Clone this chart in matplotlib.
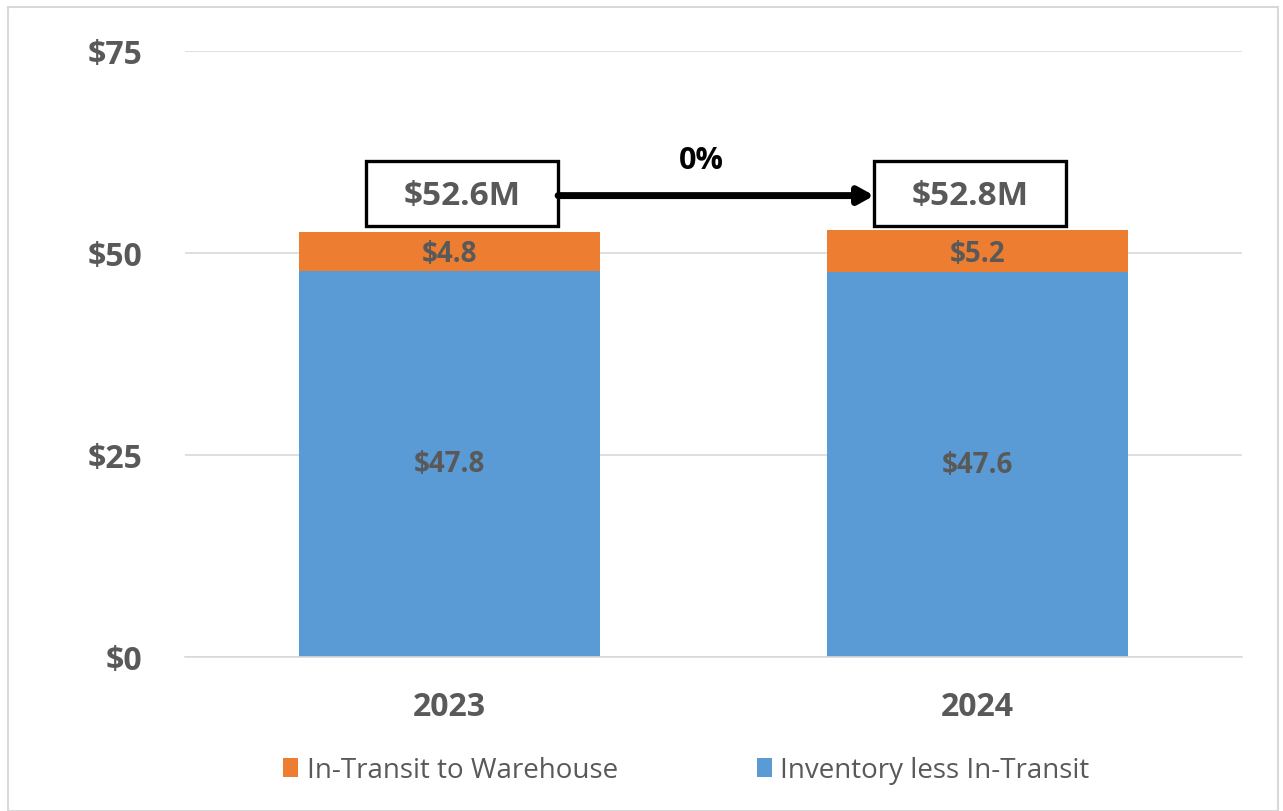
import matplotlib.pyplot as plt
from matplotlib.patches import Rectangle

plt.rcParams['font.family'] = ['Open Sans', 'DejaVu Sans']

years = ['2023', '2024']
inventory = [47.8, 47.6]
in_transit = [4.8, 5.2]
totals = ['$52.6M', '$52.8M']
change = '0%'

blue = '#5b9bd5'
orange = '#ed7d31'
gray = '#595959'

fig = plt.figure(figsize=(12.83, 8.12), dpi=100)
ax = fig.add_axes([0.1442, 0.1897, 0.8238, 0.7463])

# light frame round the whole chart
fig.patches.append(Rectangle((0.006, 0.0), 0.99, 0.99, transform=fig.transFigure,
                             fill=False, edgecolor='#d9d9d9', linewidth=1.5))

x = range(len(years))
b1 = ax.bar(x, inventory, width=0.57, color=blue, label='Inventory less In-Transit', zorder=2)
b2 = ax.bar(x, in_transit, width=0.57, bottom=inventory, color=orange,
            label='In-Transit to Warehouse', zorder=2)

for i in x:
    ax.text(i, inventory[i] / 2, f'${inventory[i]:.1f}', ha='center', va='center',
            fontsize=20, fontweight='bold', color=gray)
    ax.text(i, inventory[i] + in_transit[i] / 2 - 0.3, f'${in_transit[i]:.1f}', ha='center',
            va='center', fontsize=20, fontweight='bold', color=gray)

# total boxes
box_left = [-0.158, 0.804]
box_w = 0.364
box_lo, box_hi = 53.3, 61.4
for i in x:
    ax.add_patch(Rectangle((box_left[i], box_lo), box_w, box_hi - box_lo, facecolor='white',
                           edgecolor='black', linewidth=2.4, zorder=3))
    ax.text(box_left[i] + box_w / 2, (box_lo + box_hi) / 2 - 0.2, totals[i], ha='center',
            va='center', fontsize=24, fontweight='bold', color=gray, zorder=4)

ax.annotate('', xy=(box_left[1], 57.1), xytext=(box_left[0] + box_w, 57.1),
            arrowprops=dict(arrowstyle='-|>,head_length=0.9,head_width=0.5',
                            color='black', lw=5, shrinkA=0, shrinkB=0), zorder=5)
ax.text(0.477, 61.5, change, ha='center', va='center', fontsize=22,
        fontweight='bold', color='black')

ax.set_xlim(-0.5, 1.5)
ax.set_ylim(0, 75)
ax.set_yticks([0, 25, 50, 75])
ax.set_yticklabels(['$0', '$25', '$50', '$75'])
ax.set_xticks(list(x))
ax.set_xticklabels(years)
ax.tick_params(axis='both', length=0, labelsize=23, labelcolor=gray)
ax.tick_params(axis='y', pad=31)
ax.tick_params(axis='x', pad=24)
for lab in ax.get_xticklabels() + ax.get_yticklabels():
    lab.set_fontweight('bold')
ax.grid(axis='y', color='#d9d9d9', linewidth=1.2, zorder=0)
for s in ['top', 'right', 'left']:
    ax.spines[s].set_visible(False)
ax.spines['bottom'].set_color('#d9d9d9')
ax.spines['bottom'].set_linewidth(1.2)

leg = fig.legend(handles=[b2, b1], labels=['In-Transit to Warehouse', 'Inventory less In-Transit'],
                 loc='center', bbox_to_anchor=(0.535, 0.05), ncol=2, frameon=False,
                 fontsize=20, handlelength=0.55, handleheight=0.65, handletextpad=0.3,
                 columnspacing=5.0)
for t in leg.get_texts():
    t.set_color(gray)

fig.savefig('out.png', dpi=100)
